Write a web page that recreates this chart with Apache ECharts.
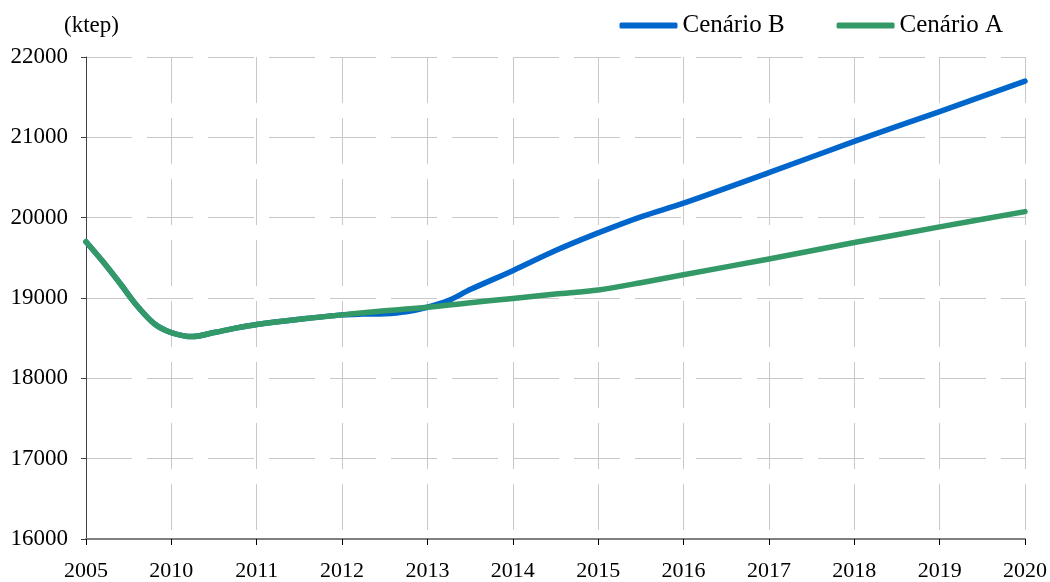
<!DOCTYPE html>
<html>
<head>
<meta charset="utf-8">
<script src="https://cdn.jsdelivr.net/npm/echarts@6/dist/echarts.min.js"></script>
<style>
html,body{margin:0;padding:0;background:#fff;}
#c{width:1050px;height:582px;}
</style>
</head>
<body>
<div id="c"></div>
<script>
// x tick labels (evenly spaced positions 0..11)
const tickLabels = ['2005','2010','2011','2012','2013','2014','2015','2016','2017','2018','2019','2020'];
// sample positions along the category axis (index units)
const xPos = [0, 0.2, 0.4, 0.6, 0.8, 1, 1.25, 1.5, 1.75, 2, 2.5, 3, 3.25, 3.5, 3.75, 4, 4.25, 4.5, 5, 5.5, 6, 6.5, 7, 8, 9, 10, 11];
const cenarioA = [19700, 19450, 19180, 18900, 18680, 18570, 18520, 18570, 18625, 18670, 18735, 18790, 18815, 18840, 18862, 18885, 18912, 18940, 18995, 19050, 19100, 19190, 19290, 19485, 19690, 19885, 20075];
const cenarioB = [19700, 19450, 19180, 18900, 18680, 18570, 18520, 18570, 18625, 18670, 18735, 18790, 18800, 18805, 18830, 18885, 18970, 19105, 19340, 19590, 19810, 20010, 20180, 20560, 20950, 21320, 21700];
const seriesNames = ['Cenário B', 'Cenário A'];
const unitLabel = '(ktep)';

const font = 'Liberation Serif, Times New Roman, serif';
const chart = echarts.init(document.getElementById('c'));
const pairs = arr => xPos.map((x, i) => [x, arr[i]]);
chart.setOption({
  animation: false,
  backgroundColor: '#fff',
  textStyle: { fontFamily: font, color: '#000' },
  grid: { left: 86, right: 23, top: 57, bottom: 42, containLabel: false },
  graphic: [{
    type: 'text', left: 64, top: 14,
    style: { text: unitLabel, font: '23px ' + font, fill: '#000' }
  }],
  legend: {
    top: 8, right: 42,
    itemWidth: 58, itemHeight: 6, itemGap: 52,
    icon: 'roundRect',
    textStyle: { fontFamily: font, fontSize: 25, color: '#000' },
    data: seriesNames
  },
  xAxis: {
    type: 'value', min: 0, max: 11, interval: 1,
    axisLine: { show: true, lineStyle: { color: '#808080', width: 2 } },
    axisTick: { show: true, length: 6, lineStyle: { color: '#000', width: 1 } },
    axisLabel: {
      fontFamily: font, fontSize: 22, color: '#000', margin: 21,
      formatter: v => tickLabels[Math.round(v)]
    },
    splitLine: { show: true, lineStyle: { color: '#c8c8c8', width: 1, type: [46, 15] } }
  },
  yAxis: {
    type: 'value', min: 16000, max: 22000, interval: 1000,
    axisLine: { show: true, lineStyle: { color: '#404040', width: 1 } },
    axisTick: { show: true, length: 5, lineStyle: { color: '#404040' } },
    axisLabel: { fontFamily: font, fontSize: 23, color: '#000', margin: 18, formatter: v => String(v) },
    splitLine: { show: true, lineStyle: { color: '#c8c8c8', width: 1, type: [46, 15] } }
  },
  series: [
    {
      name: seriesNames[0], type: 'line', data: pairs(cenarioB),
      showSymbol: false, symbol: 'none', smooth: 0.3,
      itemStyle: { color: '#0066CC' },
      lineStyle: { color: '#0066CC', width: 5.5, cap: 'round', join: 'round' }
    },
    {
      name: seriesNames[1], type: 'line', data: pairs(cenarioA),
      showSymbol: false, symbol: 'none', smooth: 0.3,
      itemStyle: { color: '#339966' },
      lineStyle: { color: '#339966', width: 5.5, cap: 'round', join: 'round' }
    }
  ]
});
</script>
</body>
</html>
